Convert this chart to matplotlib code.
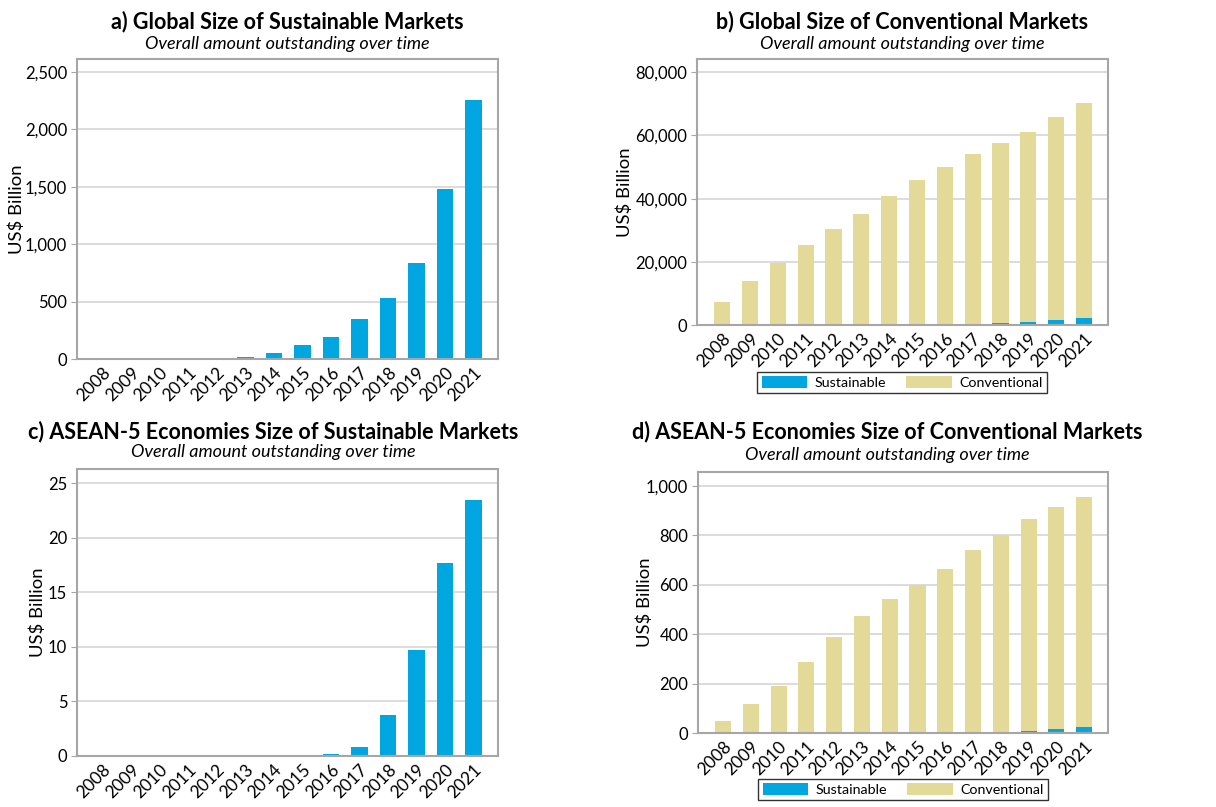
import numpy as np
import matplotlib
matplotlib.use("Agg")
import matplotlib.pyplot as plt
from matplotlib.ticker import FuncFormatter, MultipleLocator
from matplotlib.patches import Patch

plt.rcParams['font.family'] = ['Lato', 'DejaVu Sans']

years = [str(y) for y in range(2008, 2022)]

# global markets, US$ billion
global_sustainable = [3, 4, 12, 13, 13, 20, 55, 118, 195, 345, 535, 840, 1480, 2260]
global_conventional = [7300, 13990, 19590, 25290, 30390, 35080, 40750, 45780,
                       49800, 53750, 57070, 60260, 64320, 68040]

# ASEAN-5 markets, US$ billion
asean_sustainable = [0, 0, 0, 0, 0, 0, 0, 0.12, 0.22, 0.82, 3.75, 9.7, 17.7, 23.5]
asean_conventional = [47, 116, 189, 287, 388, 473, 542, 599, 664, 740, 797, 856, 897, 932]

BLUE = "#00a6df"
KHAKI = "#e3d999"
W, H = 1216, 807


def box(l, t, r, b):
    return [l / W, 1 - b / H, (r - l) / W, (b - t) / H]


def style_axes(ax, ylim, step, ylab_x):
    ax.set_xlim(-0.9, 13.86)
    ax.set_ylim(0, ylim)
    ax.yaxis.set_major_locator(MultipleLocator(step))
    ax.yaxis.set_major_formatter(FuncFormatter(lambda v, p: f"{v:,.0f}"))
    ax.grid(axis="y", color="#d9d9d9", linewidth=1.3)
    ax.set_axisbelow(True)
    for s in ax.spines.values():
        s.set_color("#a6a6a6")
        s.set_linewidth(1.5)
    ax.tick_params(axis="y", length=4, color="#a6a6a6", labelsize=12, pad=3)
    ax.tick_params(axis="x", length=0, labelsize=12.5, pad=4)
    ax.set_xticks(range(len(years)))
    ax.set_xticklabels(years, rotation=45, ha="right", rotation_mode="anchor")
    ax.set_ylabel("US$ Billion", fontsize=13.3)
    ax.yaxis.set_label_coords(ylab_x, 0.5)


def titles(x, y1, y2, title):
    fig.text(x / W, 1 - y1 / H, title, ha="center", va="center",
             fontsize=15.5, fontweight="bold")
    fig.text(x / W, 1 - y2 / H, "Overall amount outstanding over time",
             ha="center", va="center", fontsize=13, style="italic")


def add_legend(ax, cx, top):
    handles = [Patch(facecolor=BLUE), Patch(facecolor=KHAKI)]
    leg = ax.legend(handles, ["Sustainable", "Conventional"], ncol=2,
                    loc="upper center", bbox_to_anchor=(cx / W, 1 - top / H),
                    bbox_transform=fig.transFigure,
                    frameon=True, fancybox=False, fontsize=10.3,
                    handlelength=3.2, handleheight=0.9, columnspacing=1.4,
                    borderpad=0.3, handletextpad=0.5, borderaxespad=0)
    leg.get_frame().set_edgecolor("black")
    leg.get_frame().set_linewidth(1.0)


fig = plt.figure(figsize=(12.16, 8.07), dpi=100)
x = np.arange(len(years))
bw = 0.58

# a) global sustainable
ax_a = fig.add_axes(box(77, 59, 498, 359))
ax_a.bar(x, global_sustainable, width=bw, color=BLUE)
style_axes(ax_a, 2613, 500, -0.124)
titles(287, 22, 44, "a) Global Size of Sustainable Markets")

# b) global conventional (stacked)
ax_b = fig.add_axes(box(697, 59, 1108, 325))
ax_b.bar(x, global_sustainable, width=bw, color=BLUE)
ax_b.bar(x, global_conventional, width=bw, bottom=global_sustainable, color=KHAKI)
style_axes(ax_b, 84200, 20000, -0.156)
add_legend(ax_b, 902, 372)
titles(902, 22, 44, "b) Global Size of Conventional Markets")

# c) ASEAN-5 sustainable
ax_c = fig.add_axes(box(77, 469, 498, 756))
ax_c.bar(x, asean_sustainable, width=bw, color=BLUE)
style_axes(ax_c, 26.3, 5, -0.074)
titles(273, 432, 452, "c) ASEAN-5 Economies Size of Sustainable Markets")

# d) ASEAN-5 conventional (stacked)
ax_d = fig.add_axes(box(698, 472, 1108, 733))
ax_d.bar(x, asean_sustainable, width=bw, color=BLUE)
ax_d.bar(x, asean_conventional, width=bw, bottom=asean_sustainable, color=KHAKI)
style_axes(ax_d, 1057, 200, -0.11)
add_legend(ax_d, 903, 779)
titles(887, 432, 455, "d) ASEAN-5 Economies Size of Conventional Markets")

fig.savefig("out.png", dpi=100)
